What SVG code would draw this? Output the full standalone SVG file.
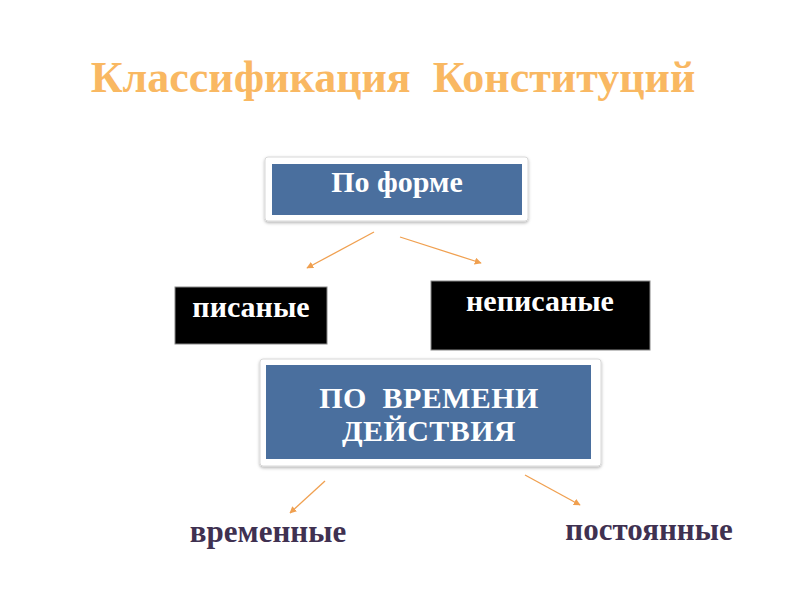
<svg xmlns="http://www.w3.org/2000/svg" width="800" height="600" viewBox="0 0 800 600">
<style>
.frame{fill:#fff;stroke:#d8d8d8;stroke-width:1}
.blue{fill:#4a6f9e}
.blk{fill:#000;stroke:#888;stroke-width:1}
.wt{font-family:"Liberation Serif",serif;font-weight:bold;font-size:30px;fill:#fff;text-anchor:middle}
.pt{font-family:"Liberation Serif",serif;font-weight:bold;font-size:31px;fill:#3f3151;text-anchor:middle}
.conn line{stroke:#f0a050;stroke-width:1.3;marker-end:url(#ah)}
</style>
<defs>
<filter id="sh" x="-10%" y="-10%" width="120%" height="130%"><feDropShadow dx="0" dy="1.5" stdDeviation="1.5" flood-color="#000" flood-opacity="0.3"/></filter>
<marker id="ah" viewBox="0 0 10 10" refX="9" refY="5" markerWidth="7" markerHeight="7" orient="auto" markerUnits="userSpaceOnUse"><path d="M0,0 L10,5 L0,10 z" fill="#f0a050"/></marker>
</defs>
<rect width="800" height="600" fill="#fff"/>
<text id="title" x="393" y="92" font-family="Liberation Serif,serif" font-weight="bold" font-size="44" fill="#f9b862" text-anchor="middle" xml:space="preserve">Классификация  Конституций</text>
<g id="po-forme">
<rect class="frame" x="265" y="157" width="263" height="64" rx="3" filter="url(#sh)"/>
<rect class="blue" x="272" y="164" width="250" height="51"/>
<text class="wt" x="397" y="192">По форме</text>
</g>
<g id="pisanye">
<rect class="blk" x="175" y="287" width="152" height="57"/>
<text class="wt" x="251" y="317">писаные</text>
</g>
<g id="nepisanye">
<rect class="blk" x="431" y="281" width="219" height="69"/>
<text class="wt" x="540" y="311">неписаные</text>
</g>
<g id="po-vremeni">
<rect class="frame" x="260" y="359" width="341" height="107" rx="3" filter="url(#sh)"/>
<rect class="blue" x="266" y="365" width="325" height="94"/>
<text class="wt" x="429" y="408" font-size="28" letter-spacing="0.4" xml:space="preserve">ПО  ВРЕМЕНИ</text>
<text class="wt" x="429" y="441" font-size="28" letter-spacing="0.4">ДЕЙСТВИЯ</text>
</g>
<g id="vremennye"><text class="pt" x="268" y="542">временные</text></g>
<g id="postoyannye"><text class="pt" x="649" y="540">постоянные</text></g>
<g class="conn" id="connectors">
<line x1="374" y1="232" x2="307" y2="268"/>
<line x1="400" y1="237" x2="481" y2="263"/>
<line x1="325" y1="481" x2="290" y2="513"/>
<line x1="525" y1="475" x2="580" y2="505"/>
</g>
</svg>
